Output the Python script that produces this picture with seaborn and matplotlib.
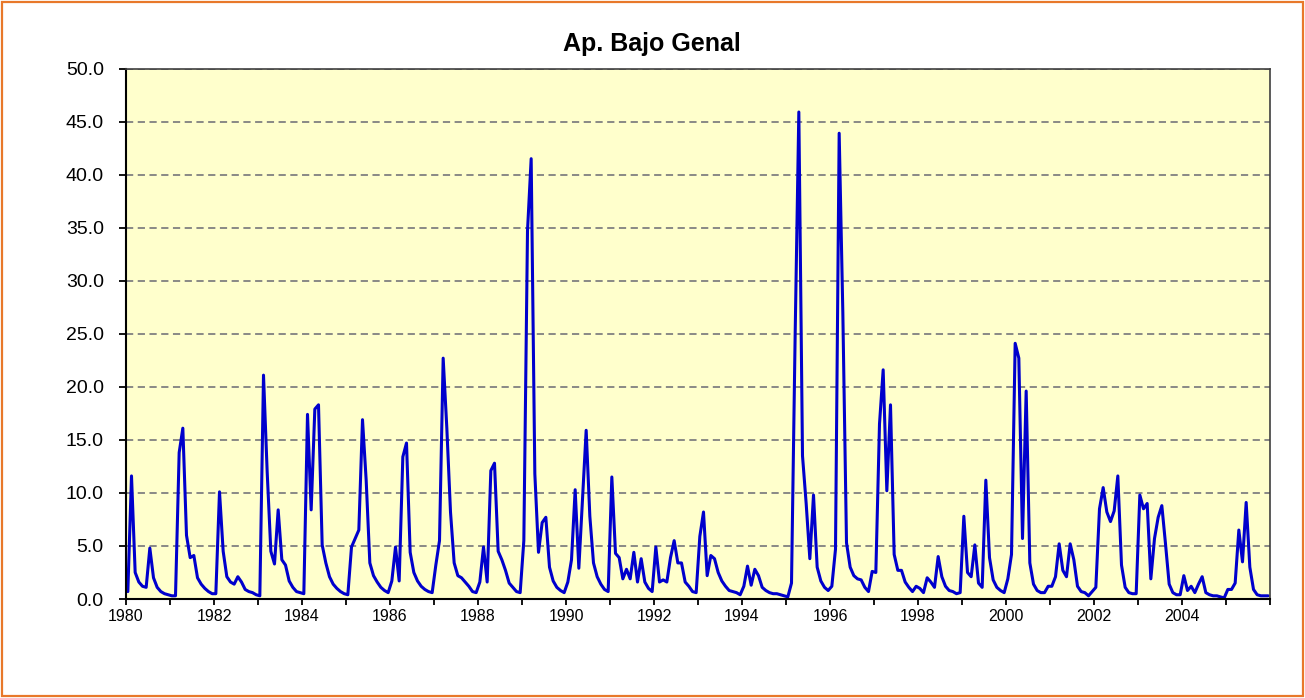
import matplotlib
matplotlib.use("Agg")
import matplotlib.pyplot as plt
import seaborn as sns
import numpy as np
import pandas as pd
from matplotlib.patches import Rectangle

title = "Ap. Bajo Genal"
start_year = 1980
n_years = 26

# monthly values, Jan 1980 - Dec 1989
flow_1980s = [0.7, 11.6, 2.5, 1.6, 1.2, 1.1, 4.8, 2.0, 1.1, 0.7, 0.5, 0.4,
              0.3, 0.3, 13.8, 16.1, 6.0, 3.9, 4.1, 2.0, 1.4, 1.0, 0.7, 0.5,
              0.5, 10.1, 4.5, 2.1, 1.6, 1.4, 2.1, 1.6, 0.9, 0.7, 0.6, 0.4,
              0.3, 21.1, 12.0, 4.5, 3.3, 8.4, 3.7, 3.2, 1.7, 1.1, 0.7, 0.6,
              0.5, 17.4, 8.4, 17.9, 18.3, 5.1, 3.4, 2.1, 1.4, 1.0, 0.7, 0.5,
              0.4, 4.9, 5.7, 6.5, 16.9, 11.2, 3.4, 2.2, 1.6, 1.1, 0.8, 0.6,
              1.7, 4.9, 1.7, 13.4, 14.7, 4.4, 2.5, 1.7, 1.2, 0.9, 0.7, 0.6,
              3.2, 5.5, 22.7, 16.1, 8.2, 3.4, 2.2, 2.0, 1.6, 1.2, 0.7, 0.6,
              1.6, 4.9, 1.6, 12.1, 12.8, 4.5, 3.7, 2.7, 1.5, 1.1, 0.7, 0.6,
              5.5, 34.7, 41.5, 11.8, 4.4, 7.2, 7.7, 3.0, 1.7, 1.1, 0.8, 0.6]
# Jan 1990 - Dec 1999
flow_1990s = [1.6, 3.7, 10.3, 2.9, 9.5, 15.9, 7.8, 3.4, 2.1, 1.4, 0.9, 0.7,
              11.5, 4.3, 3.9, 1.9, 2.8, 1.9, 4.4, 1.6, 3.8, 1.6, 1.0, 0.7,
              4.9, 1.6, 1.8, 1.6, 3.9, 5.5, 3.4, 3.4, 1.6, 1.2, 0.7, 0.6,
              5.9, 8.2, 2.2, 4.1, 3.8, 2.5, 1.7, 1.2, 0.8, 0.7, 0.6, 0.4,
              1.2, 3.1, 1.3, 2.8, 2.2, 1.1, 0.8, 0.6, 0.5, 0.5, 0.4, 0.3,
              0.2, 1.5, 25.0, 45.9, 13.5, 9.0, 3.8, 9.8, 3.0, 1.7, 1.1, 0.8,
              1.2, 4.7, 43.9, 27.0, 5.3, 3.0, 2.2, 1.9, 1.8, 1.1, 0.7, 2.6,
              2.5, 16.5, 21.6, 10.2, 18.3, 4.2, 2.7, 2.7, 1.6, 1.1, 0.7, 1.2,
              1.0, 0.6, 2.0, 1.6, 1.1, 4.0, 2.1, 1.2, 0.8, 0.7, 0.5, 0.6,
              7.8, 2.5, 2.1, 5.1, 1.5, 1.1, 11.2, 3.9, 1.8, 1.1, 0.8, 0.6]
# Jan 2000 - Dec 2005
flow_2000s = [1.9, 4.2, 24.1, 22.7, 5.7, 19.6, 3.4, 1.4, 0.8, 0.6, 0.6, 1.2,
              1.2, 2.1, 5.2, 2.7, 2.1, 5.2, 3.7, 1.2, 0.7, 0.6, 0.3, 0.7,
              1.1, 8.5, 10.5, 8.2, 7.3, 8.3, 11.6, 3.2, 1.1, 0.6, 0.5, 0.5,
              9.8, 8.5, 9.0, 1.9, 5.7, 7.7, 8.8, 5.2, 1.4, 0.6, 0.4, 0.4,
              2.2, 0.8, 1.2, 0.6, 1.4, 2.1, 0.6, 0.4, 0.3, 0.3, 0.2, 0.1,
              0.9, 0.9, 1.5, 6.5, 3.5, 9.1, 3.0, 0.9, 0.4, 0.3, 0.3, 0.3]

y_ticks = [0.0, 5.0, 10.0, 15.0, 20.0, 25.0, 30.0, 35.0, 40.0, 45.0, 50.0]
year_labels = [str(y) for y in range(1980, 2006, 2)]

values = flow_1980s + flow_1990s + flow_2000s
df = pd.DataFrame({"month": np.arange(len(values)) + 0.5, "flow": values})

sns.set_theme(style="white")
plt.rcParams['font.family'] = ['Liberation Sans', 'DejaVu Sans']
plt.rcParams['text.color'] = 'black'
plt.rcParams['xtick.color'] = 'black'
plt.rcParams['ytick.color'] = 'black'

fig = plt.figure(figsize=(13.05, 6.98), dpi=100)
fig.patch.set_facecolor("white")
ax = fig.add_axes([126 / 1305, 1 - 599 / 698, (1270 - 126) / 1305, (599 - 68.5) / 698])
ax.set_facecolor("#FFFFCC")

sns.lineplot(data=df, x="month", y="flow", ax=ax, color="#0000CC", linewidth=2.2)

ax.set_xlim(0, n_years * 12)
ax.set_ylim(0, 50)
ax.set_yticks(y_ticks)
ax.set_yticklabels([f"{v:.1f}" for v in y_ticks], fontsize=14, color="black")
ax.set_xticks(np.arange(0, n_years * 12 + 1, 12))
ax.set_xticklabels([str(start_year + k) if k % 2 == 0 and k < n_years else ""
                    for k in range(n_years + 1)], fontsize=11.5, color="black")
ax.set_xlabel("")
ax.set_ylabel("")

for v in y_ticks[1:]:
    ax.axhline(v, color="#808080", linestyle=(0, (4, 2.5)), linewidth=1.3, zorder=1)

ax.tick_params(axis="y", which="major", direction="out", length=5, width=1.3,
               color="black", labelcolor="black", left=True, pad=11)
ax.tick_params(axis="x", which="major", direction="out", length=4, width=1.3,
               color="black", labelcolor="black", bottom=True, pad=3)
for side in ["left", "bottom"]:
    ax.spines[side].set_color("black")
    ax.spines[side].set_linewidth(1.5)
for side in ["top", "right"]:
    ax.spines[side].set_color("#404040")
    ax.spines[side].set_linewidth(1.2)

fig.text(652 / 1305, 1 - 44 / 698, title, ha="center", va="center",
         fontsize=18, fontweight="bold", color="black")

fig.patches.append(Rectangle((2 / 1305, 2 / 698), 1 - 4 / 1305, 1 - 4 / 698,
                             transform=fig.transFigure, fill=False,
                             edgecolor="#E8782A", linewidth=1.6))

fig.savefig("out.png", dpi=100)
